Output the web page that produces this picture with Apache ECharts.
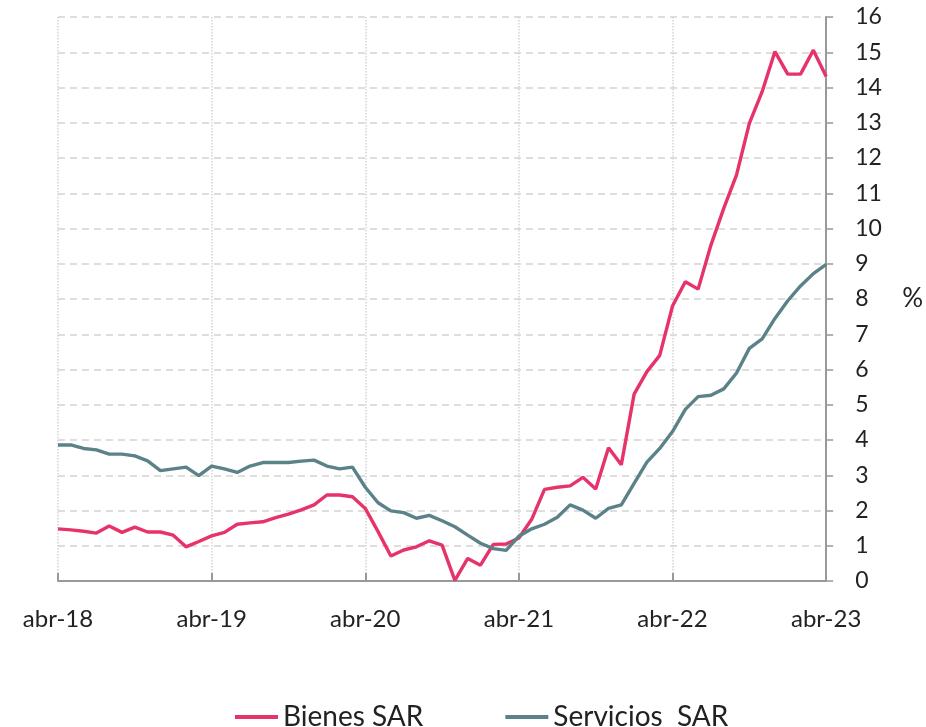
<!DOCTYPE html>
<html>
<head>
<meta charset="utf-8">
<script src="https://cdn.jsdelivr.net/npm/echarts@6/dist/echarts.min.js"></script>
<style>
  html, body { margin: 0; padding: 0; background: #fff; }
  #chart { width: 926px; height: 727px; }
</style>
</head>
<body>
<div id="chart"></div>
<script>
// meses desde abr-18 hasta abr-23
const monthNames = ['ene', 'feb', 'mar', 'abr', 'may', 'jun', 'jul', 'ago', 'sep', 'oct', 'nov', 'dic']
const categories = []
for (let i = 0; i <= 60; i++) {
  const m = (3 + i) % 12
  const y = 18 + Math.floor((3 + i) / 12)
  categories.push(monthNames[m] + '-' + y)
}

const bienesSAR = [
  1.48, 1.45, 1.41, 1.36, 1.56, 1.38, 1.53, 1.39, 1.39, 1.30, 0.97, 1.12,
  1.28, 1.38, 1.61, 1.65, 1.68, 1.80, 1.90, 2.02, 2.16, 2.44, 2.44, 2.39,
  2.06, 1.40, 0.71, 0.88, 0.97, 1.14, 1.02, 0.02, 0.64, 0.45, 1.04, 1.05,
  1.22, 1.75, 2.60, 2.66, 2.70, 2.94, 2.61, 3.78, 3.30, 5.30, 5.94, 6.40,
  7.80, 8.49, 8.28, 9.53, 10.57, 11.52, 12.98, 13.88, 15.02, 14.38, 14.38, 15.06,
  14.31
]

const serviciosSAR = [
  3.86, 3.86, 3.76, 3.72, 3.60, 3.60, 3.55, 3.41, 3.13, 3.18, 3.23, 2.99,
  3.26, 3.18, 3.08, 3.26, 3.36, 3.36, 3.36, 3.40, 3.43, 3.26, 3.18, 3.23,
  2.66, 2.22, 1.99, 1.94, 1.78, 1.86, 1.71, 1.54, 1.30, 1.07, 0.92, 0.87,
  1.27, 1.48, 1.61, 1.81, 2.16, 2.01, 1.78, 2.06, 2.16, 2.77, 3.37, 3.76,
  4.24, 4.87, 5.23, 5.27, 5.45, 5.90, 6.60, 6.87, 7.45, 7.95, 8.37, 8.72,
  8.98
]

const chart = echarts.init(document.getElementById('chart'))
const font = 'Lato, "Open Sans", sans-serif'

chart.setOption({
  animation: false,
  color: ['#E6336A', '#5B8189'],
  grid: {
    left: 58,
    right: 98,
    top: 17,
    bottom: 146
  },
  legend: {
    top: 698,
    left: 230,
    icon: 'rect',
    itemWidth: 43,
    itemHeight: 4,
    itemGap: 82,
    textStyle: {
      fontFamily: font,
      fontSize: 28,
      color: '#222'
    },
    data: ['Bienes SAR', 'Servicios  SAR']
  },
  xAxis: {
    type: 'category',
    data: categories,
    boundaryGap: false,
    axisLine: { lineStyle: { color: '#999', width: 2 } },
    axisTick: {
      inside: true,
      length: 8,
      interval: 11,
      lineStyle: { color: '#999', width: 2 }
    },
    axisLabel: {
      interval: 11,
      margin: 26,
      fontFamily: font,
      fontSize: 24,
      color: '#222'
    },
    splitLine: {
      show: true,
      interval: 11,
      lineStyle: { color: '#d4d4d4', type: 'dotted', width: 1.5 }
    }
  },
  yAxis: {
    type: 'value',
    position: 'right',
    min: 0,
    max: 16,
    interval: 1,
    name: '%',
    nameLocation: 'middle',
    nameRotate: 0,
    nameGap: 76,
    nameTextStyle: {
      fontFamily: font,
      fontSize: 26,
      color: '#222',
      padding: [12, 0, 0, 0]
    },
    axisLine: { show: true, lineStyle: { color: '#999', width: 2 } },
    axisTick: {
      show: true,
      length: 7,
      lineStyle: { color: '#999', width: 1.5 }
    },
    axisLabel: {
      margin: 29,
      fontFamily: font,
      fontSize: 23,
      color: '#222'
    },
    splitLine: {
      lineStyle: { color: '#d4d4d4', type: [7, 5], width: 1.5 }
    }
  },
  series: [
    {
      name: 'Bienes SAR',
      type: 'line',
      data: bienesSAR,
      symbol: 'none',
      lineStyle: { width: 3.4 }
    },
    {
      name: 'Servicios  SAR',
      type: 'line',
      data: serviciosSAR,
      symbol: 'none',
      lineStyle: { width: 3.4 }
    }
  ]
})
</script>
</body>
</html>
